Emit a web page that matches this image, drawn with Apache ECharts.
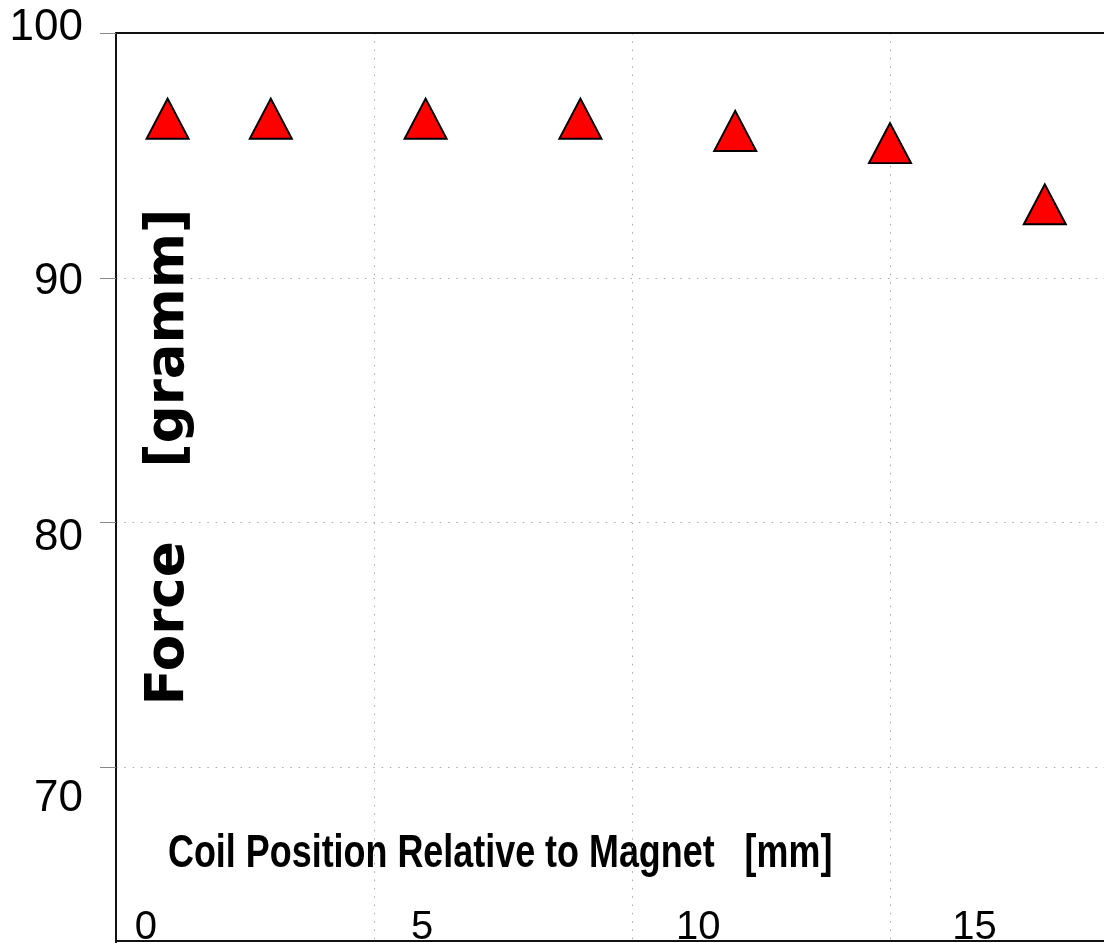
<!DOCTYPE html>
<html>
<head>
<meta charset="utf-8">
<script src="https://cdn.jsdelivr.net/npm/echarts@6/dist/echarts.min.js"></script>
<style>html,body{margin:0;padding:0;background:#fff}#c{width:1104px;height:943px}</style>
</head>
<body>
<div id="c"></div>
<script>
// Data
var positions = [1, 3, 6, 9, 12, 15, 18];
var forces = [96.5, 96.5, 96.5, 96.5, 96.0, 95.5, 93.0];
var xTickLabels = [0, 5, 10, 15];
var yTickLabels = [70, 80, 90, 100];
var xTitle = 'Coil Position Relative to Magnet   [mm]';
var yTitle = 'Force    [gramm]';

// label styling (vertical nudges of y labels as drawn in the original)
var yLabelNudge = {100: -5, 90: 4, 80: 15, 70: 32};
var rich = {};
yTickLabels.forEach(function (v) {
  var n = yLabelNudge[v] || 0;
  rich['l' + v] = {
    fontSize: 44, fontFamily: 'Liberation Sans', color: '#000',
    padding: n >= 0 ? [2 * n, 0, 0, 0] : [0, 0, -2 * n, 0]
  };
});

var chart = echarts.init(document.getElementById('c'), null, {renderer: 'canvas'});
var dotted = {color: '#aaaaaa', width: 1, type: [1.5, 6.8]};
chart.setOption({
  animation: false,
  backgroundColor: '#ffffff',
  graphic: [{
    type: 'text', left: 168, top: 831, scaleX: 0.764, scaleY: 1,
    style: {
      text: xTitle, fill: '#000',
      font: 'bold 47px "Liberation Sans", Arial, sans-serif'
    }
  }],
  grid: [
    {left: 116, right: 0, top: 33, height: 979, containLabel: false, outerBoundsMode: 'none'},
    {left: 116, right: 0, top: 33, bottom: 2, containLabel: false, outerBoundsMode: 'none'}
  ],
  xAxis: [
    {
      type: 'value', gridIndex: 0, min: 0, max: 19.147, interval: 5,
      axisLine: {show: false}, axisTick: {show: false}, axisLabel: {show: false},
      splitLine: {show: true, lineStyle: dotted}
    },
    {
      type: 'value', gridIndex: 1, position: 'bottom', min: -0.543, max: 17.346,
      axisLine: {show: true, onZero: false, lineStyle: {color: '#111', width: 2}},
      axisTick: {show: false}, splitLine: {show: false},
      axisLabel: {
        show: true, inside: true, margin: -7, customValues: xTickLabels,
        fontSize: 40, fontFamily: 'Liberation Sans', color: '#000'
      }
    },
    {
      type: 'value', gridIndex: 0, position: 'top', min: 0, max: 19.147,
      axisLine: {show: true, onZero: false, lineStyle: {color: '#111', width: 2}},
      axisTick: {show: false}, axisLabel: {show: false}, splitLine: {show: false}
    }
  ],
  yAxis: [
    {
      type: 'value', gridIndex: 0, min: 60, max: 100, interval: 10,
      axisLine: {show: true, onZero: false, lineStyle: {color: '#111', width: 2}},
      axisTick: {show: true, length: 16, lineStyle: {color: '#888', width: 1}},
      axisLabel: {
        margin: 33, customValues: yTickLabels,
        formatter: function (v) { return '{l' + v + '|' + v + '}'; },
        rich: rich
      },
      splitLine: {show: true, lineStyle: dotted}
    },
    {
      type: 'value', gridIndex: 1, min: 0, max: 1,
      axisLine: {show: false}, axisTick: {show: false}, axisLabel: {show: false},
      splitLine: {show: false},
      name: yTitle, nameLocation: 'middle', nameRotate: 90, nameGap: -53,
      nameTextStyle: {
        fontFamily: 'DejaVu Sans', fontWeight: 'bold', fontSize: 53, color: '#000',
        verticalAlign: 'middle', align: 'center', padding: [0, 0, 0, 60]
      }
    }
  ],
  series: [{
    type: 'scatter', xAxisIndex: 0, yAxisIndex: 0,
    symbol: 'triangle', symbolSize: [42, 40],
    itemStyle: {color: '#ff0000', borderColor: '#000', borderWidth: 2, opacity: 1},
    data: positions.map(function (x, i) { return [x, forces[i]]; })
  }]
});
</script>
</body>
</html>
